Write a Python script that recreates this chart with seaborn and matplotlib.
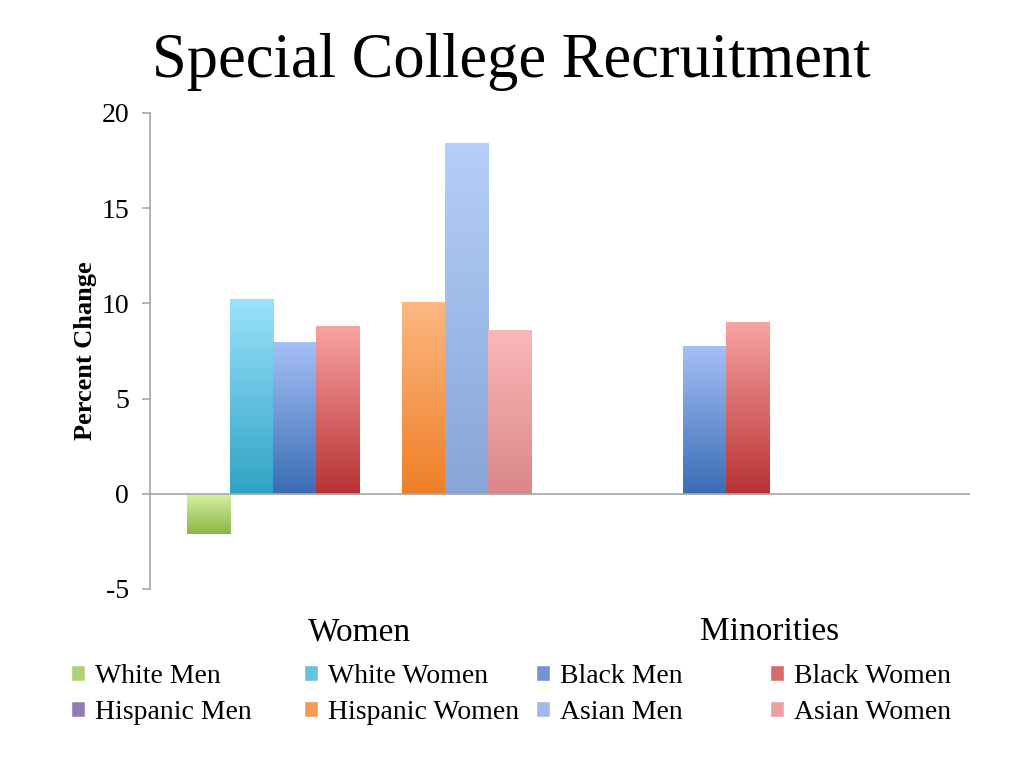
import numpy as np
import pandas as pd
import seaborn as sns
import matplotlib.pyplot as plt
from matplotlib.patches import Patch
from matplotlib.colors import to_hex, to_rgb

# --- data ---
categories = ['Women', 'Minorities']
groups = ['White Men', 'White Women', 'Black Men', 'Black Women',
          'Hispanic Men', 'Hispanic Women', 'Asian Men', 'Asian Women']
women_vals = [-2.1, 10.25, 7.95, 8.8, np.nan, 10.05, 18.4, 8.62]
minority_vals = [np.nan, np.nan, 7.75, 9.0, np.nan, np.nan, np.nan, np.nan]

# gradient colours (top / bottom) per group, roughly like the PowerPoint fills
top_colors = ['#d6f1a0', '#9be2fc', '#a5bff6', '#f8a2a2',
              '#bca9da', '#fdb782', '#b5cff9', '#fbb8b8']
bottom_colors = ['#8cb447', '#2fa3c4', '#3a6db5', '#b93232',
                 '#64508e', '#ef7f26', '#88a5d7', '#da8789']
mid_colors = [to_hex((np.array(to_rgb(t)) + np.array(to_rgb(b))) / 2)
              for t, b in zip(top_colors, bottom_colors)]

rows = []
for cat, vals in zip(categories, [women_vals, minority_vals]):
    for g, v in zip(groups, vals):
        if not np.isnan(v):
            rows.append({'Category': cat, 'Group': g, 'Value': v})
df = pd.DataFrame(rows)

# --- style ---
sns.set_style('white')
plt.rcParams['font.family'] = ['Liberation Serif', 'DejaVu Serif']
plt.rcParams['axes.unicode_minus'] = False
plt.rcParams['text.color'] = 'black'
plt.rcParams['xtick.color'] = 'black'
plt.rcParams['ytick.color'] = 'black'
plt.rcParams['axes.labelcolor'] = 'black'

fig = plt.figure(figsize=(10.24, 7.68), dpi=100)
ax = fig.add_axes([150 / 1024, 1 - 589 / 768, 820 / 1024, (589 - 113) / 768])

palette = dict(zip(groups, mid_colors))
sns.barplot(data=df, x='Category', y='Value', hue='Group',
            order=categories, hue_order=groups, palette=palette,
            saturation=1, width=0.84, dodge=True, errorbar=None,
            legend=False, linewidth=0, ax=ax)

# paint vertical gradients on the bars
color_lookup = {c: i for i, c in enumerate(mid_colors)}
for patch in list(ax.patches):
    idx = color_lookup.get(to_hex(patch.get_facecolor()))
    if idx is None or patch.get_height() == 0:
        continue
    x0, y0 = patch.get_x(), patch.get_y()
    w, h = patch.get_width(), patch.get_height()
    ylo, yhi = min(y0, y0 + h), max(y0, y0 + h)
    t = np.linspace(0, 1, 128)[:, None]
    grad = (1 - t) * np.array(to_rgb(top_colors[idx])) + t * np.array(to_rgb(bottom_colors[idx]))
    grad = grad[:, None, :]
    im = ax.imshow(grad, extent=[x0, x0 + w, ylo, yhi], origin='upper',
                   aspect='auto', interpolation='bilinear',
                   zorder=patch.get_zorder() + 0.1)
    im.set_clip_path(patch)
    patch.set_edgecolor('none')

ax.set_xlim(-0.51, 1.49)
ax.set_ylim(-5, 20)
ax.set_yticks([-5, 0, 5, 10, 15, 20])

axis_gray = '#a6a6a6'
ax.axhline(0, color=axis_gray, lw=1.2, zorder=5)
for s in ['top', 'right', 'bottom']:
    ax.spines[s].set_visible(False)
ax.spines['left'].set_color(axis_gray)
ax.spines['left'].set_linewidth(1.2)
ax.tick_params(axis='y', direction='out', length=6, width=1.2, color=axis_gray,
               labelsize=20, pad=9, left=True)
ax.tick_params(axis='x', length=0, labelsize=24, pad=20)
ax.set_xlabel('')
ax.set_ylabel('Percent Change', fontsize=19, fontweight='bold', labelpad=3)

fig.text(511 / 1024, 1 - 62 / 768, 'Special College Recruitment',
         ha='center', va='center', fontsize=45)

# legend: four columns, two rows
col_x = [71, 304, 536, 770]
for c in range(4):
    handles = [Patch(facecolor=mid_colors[c], label=groups[c]),
               Patch(facecolor=mid_colors[c + 4], label=groups[c + 4])]
    fig.legend(handles=handles, loc='upper left',
               bbox_to_anchor=(col_x[c] / 1024, 1 - 664 / 768),
               frameon=False, fontsize=20, handlelength=0.5, handleheight=0.5,
               handletextpad=0.38, labelspacing=0.38, borderpad=0, borderaxespad=0)

fig.savefig('out.png', dpi=100)
